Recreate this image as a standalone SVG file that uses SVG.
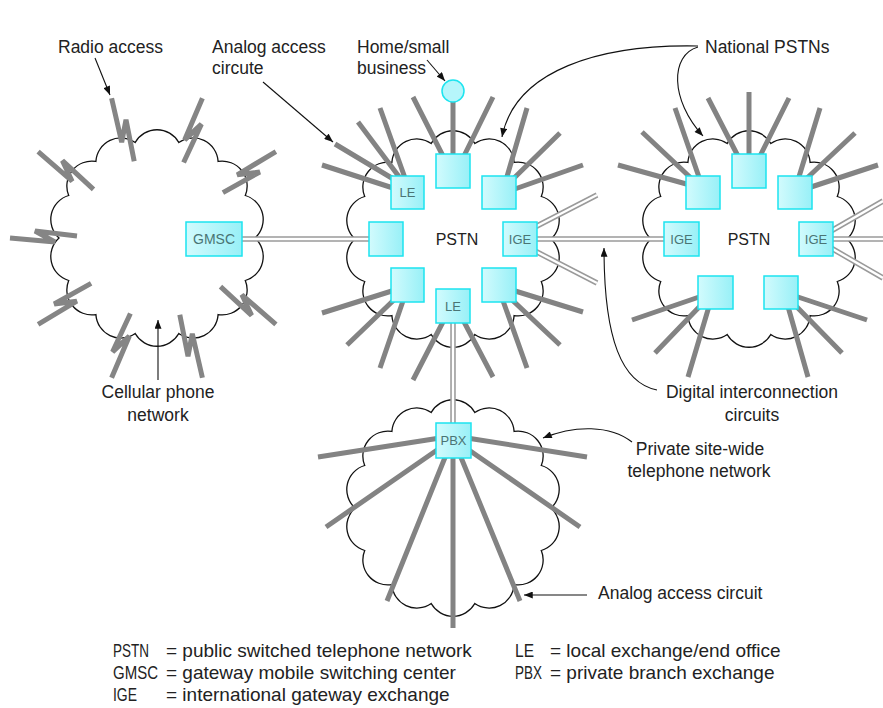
<svg xmlns="http://www.w3.org/2000/svg" xmlns:xlink="http://www.w3.org/1999/xlink" width="883" height="708" viewBox="0 0 883 708">
<style>
.cloud{fill:#fff;stroke:#111;stroke-width:1.3}
.spoke{stroke:#838383;stroke-width:5;fill:none}
.bolt{stroke:#858585;stroke-width:5;fill:none;stroke-linejoin:bevel}
.dlo{stroke:#9a9a9a;stroke-width:5.5;fill:none}
.dli{stroke:#fff;stroke-width:2.4;fill:none}
.box{fill:url(#boxg);stroke:#1de4ef;stroke-width:1.5}
.blab{font-family:"Liberation Sans",Arial,sans-serif;font-size:13px;fill:#4a7474;text-anchor:middle}
.lab{font-family:"Liberation Sans",Arial,sans-serif;font-size:17.5px;fill:#222}
.mid{text-anchor:middle}
.ctr{font-family:"Liberation Sans",Arial,sans-serif;font-size:16px;fill:#222;text-anchor:middle}
.arrow{stroke:#111;stroke-width:1.1;fill:none;marker-end:url(#ah)}
.leg{font-family:"Liberation Sans",Arial,sans-serif;font-size:19px;fill:#222}
</style>
<defs>
<linearGradient id="boxg" x1="0" y1="0" x2="1" y2="0">
<stop offset="0" stop-color="#d2fbfd"/>
<stop offset="1" stop-color="#98f0f7"/>
</linearGradient>
<marker id="ah" viewBox="0 0 10 8" refX="10" refY="4" markerWidth="10" markerHeight="7" markerUnits="userSpaceOnUse" orient="auto">
<path d="M0,0 L10,4 L0,8 Z" fill="#111"/>
</marker>
<path id="cloudShape" d="M21.8,-95.5 A25,25 0 0 1 61.1,-76.6 A25,25 0 0 1 88.3,-42.5 A25,25 0 0 1 98,0 A25,25 0 0 1 88.3,42.5 A25,25 0 0 1 61.1,76.6 A25,25 0 0 1 21.8,95.5 A25,25 0 0 1 -21.8,95.5 A25,25 0 0 1 -61.1,76.6 A25,25 0 0 1 -88.3,42.5 A25,25 0 0 1 -98,0 A25,25 0 0 1 -88.3,-42.5 A25,25 0 0 1 -61.1,-76.6 A25,25 0 0 1 -21.8,-95.5 A25,25 0 0 1 21.8,-95.5 Z"/>
<path id="dlines" d="M240,239 H372 M535,239 H667 M535,227 L597,195 M535,251 L597,283 M831,239 H883 M831,231 L883,201 M831,248 L883,278 M453,320 V426"/>
</defs>

<g id="cellular-network">
<use xlink:href="#cloudShape" href="#cloudShape" transform="translate(157,238)" class="cloud"/>
<g class="bolt">
<polyline points="275.9,324.4 241.9,294.8 251.6,315.4 220.5,286.6"/>
<polyline points="202.4,377.8 192.3,333.8 188.0,356.2 179.8,314.7"/>
<polyline points="111.6,377.8 129.3,336.2 112.6,351.8 130.4,313.5"/>
<polyline points="38.1,324.4 76.8,301.2 54.2,304.0 91.1,283.4"/>
<polyline points="10,238 55,242 35,231 77,236"/>
<polyline points="38.1,151.6 72.1,181.2 62.4,160.6 93.5,189.4"/>
<polyline points="111.6,98.2 121.7,142.2 126.0,119.8 134.2,161.3"/>
<polyline points="202.4,98.2 184.7,139.8 201.4,124.2 183.6,162.5"/>
<polyline points="275.9,151.6 237.2,174.8 259.8,172.0 222.9,192.6"/>
</g>
</g>

<g id="pstn-national">
<use xlink:href="#cloudShape" href="#cloudShape" transform="translate(453,239)" class="cloud"/>
<g class="spoke">
<path d="M335,144 L395,180 M322,165 L393,188 M358,122 L400,178 M380,108 L405,178"/>
<path d="M413,97 L445,160 M493,97 L462,160 M453,102 L453,160"/>
<path d="M527,108 L506,180 M560,133 L510,182 M583,165 L512,190"/>
<path d="M322,313 L395,290 M347,345 L398,296 M380,368 L404,298"/>
<path d="M413,380 L445,318 M493,377 L462,318"/>
<path d="M583,312 L512,290 M560,345 L508,296 M527,368 L502,298"/>
</g>
<text class="ctr" x="457" y="245">PSTN</text>
</g>

<g id="pstn-foreign">
<use xlink:href="#cloudShape" href="#cloudShape" transform="translate(749,239)" class="cloud"/>
<g class="spoke">
<path d="M618,165 L690,185 M642,132 L693,180 M675,108 L700,180"/>
<path d="M708,98 L740,160 M749,92 L749,160 M789,98 L758,160"/>
<path d="M820,108 L798,180 M855,133 L805,180 M878,165 L808,188"/>
<path d="M632,320 L702,296 M655,353 L703,303 M688,377 L710,303"/>
<path d="M867,320 L795,296 M842,353 L793,303 M808,377 L787,303"/>
</g>
<text class="ctr" x="749" y="245">PSTN</text>
</g>

<g id="private-network">
<use xlink:href="#cloudShape" href="#cloudShape" transform="translate(453,508)" class="cloud"/>
<g class="spoke">
<path d="M318,457 L440,438 M587,457 L467,438 M326,527 L440,448 M580,527 L466,448 M387,601 L446,455 M520,601 L460,455 M453,628 L453,455"/>
</g>
</g>

<g id="connectors">
<use xlink:href="#dlines" href="#dlines" class="dlo"/>
<use xlink:href="#dlines" href="#dlines" class="dli"/>
</g>

<g id="gmsc"><rect class="box" x="186" y="222" width="56" height="34"/><text class="blab" x="214" y="244" style="font-size:14px">GMSC</text></g>
<g id="le-top-left"><rect class="box" x="391" y="176" width="33" height="33"/><text class="blab" x="407.5" y="197">LE</text></g>
<g id="exch-top"><rect class="box" x="436" y="154" width="34" height="34"/></g>
<g id="exch-top-right"><rect class="box" x="482" y="176" width="34" height="33"/></g>
<g id="exch-left"><rect class="box" x="369" y="222" width="34" height="34"/></g>
<g id="ige-1"><rect class="box" x="503" y="222" width="34" height="34"/><text class="blab" x="520" y="244">IGE</text></g>
<g id="exch-bottom-left"><rect class="box" x="391" y="268" width="33" height="34"/></g>
<g id="le-bottom"><rect class="box" x="436" y="289" width="34" height="34"/><text class="blab" x="453" y="311">LE</text></g>
<g id="exch-bottom-right"><rect class="box" x="482" y="268" width="34" height="34"/></g>
<g id="home"><circle cx="453" cy="91" r="11" fill="#b6f6fb" stroke="#1de4ef" stroke-width="1.5"/></g>

<g id="r-exch-top-left"><rect class="box" x="686" y="176" width="34" height="33"/></g>
<g id="r-exch-top"><rect class="box" x="732" y="154" width="34" height="34"/></g>
<g id="r-exch-top-right"><rect class="box" x="778" y="176" width="34" height="33"/></g>
<g id="ige-2"><rect class="box" x="664" y="222" width="35" height="34"/><text class="blab" x="681.5" y="244">IGE</text></g>
<g id="ige-3"><rect class="box" x="799" y="222" width="34" height="34"/><text class="blab" x="816" y="244">IGE</text></g>
<g id="r-exch-bottom-left"><rect class="box" x="698" y="276" width="35" height="33"/></g>
<g id="r-exch-bottom-right"><rect class="box" x="764" y="276" width="34" height="33"/></g>

<g id="pbx"><rect class="box" x="436" y="423" width="35" height="35"/><text class="blab" x="453.5" y="445">PBX</text></g>

<g id="annotations">
<path class="arrow" d="M95,58 L110,95"/>
<path class="arrow" d="M263,82 L333,142"/>
<path class="arrow" d="M427,60 L445,81"/>
<path class="arrow" d="M698,46 C600,44 515,70 502,137"/>
<path class="arrow" d="M698,47 C670,55 670,100 703,136"/>
<path class="arrow" d="M657,390 C622,383 604,340 604,248"/>
<path class="arrow" d="M632,442 C610,425 575,425 543,438"/>
<path class="arrow" d="M587,595 L524,595"/>
<path class="arrow" d="M158,380 L158,320"/>
<text class="lab" x="58" y="53">Radio access</text>
<text class="lab" x="212" y="53">Analog access</text>
<text class="lab" x="212" y="74">circute</text>
<text class="lab" x="357" y="53">Home/small</text>
<text class="lab" x="357" y="74">business</text>
<text class="lab" x="705" y="53">National PSTNs</text>
<text class="lab mid" x="752" y="398">Digital interconnection</text>
<text class="lab mid" x="752" y="421">circuits</text>
<text class="lab mid" x="158" y="398">Cellular phone</text>
<text class="lab mid" x="158" y="421">network</text>
<text class="lab mid" x="700" y="455">Private site-wide</text>
<text class="lab mid" x="699" y="477">telephone network</text>
<text class="lab" x="598" y="599">Analog access circuit</text>
</g>

<g id="legend">
<text class="leg" x="113" y="657" textLength="36" lengthAdjust="spacingAndGlyphs">PSTN</text>
<text class="leg" x="166" y="657">= public switched telephone network</text>
<text class="leg" x="113" y="679" textLength="45" lengthAdjust="spacingAndGlyphs">GMSC</text>
<text class="leg" x="166" y="679">= gateway mobile switching center</text>
<text class="leg" x="113" y="701" textLength="24" lengthAdjust="spacingAndGlyphs">IGE</text>
<text class="leg" x="166" y="701">= international gateway exchange</text>
<text class="leg" x="515" y="657" textLength="19" lengthAdjust="spacingAndGlyphs">LE</text>
<text class="leg" x="550" y="657">= local exchange/end office</text>
<text class="leg" x="515" y="679" textLength="27" lengthAdjust="spacingAndGlyphs">PBX</text>
<text class="leg" x="550" y="679">= private branch exchange</text>
</g>
</svg>
